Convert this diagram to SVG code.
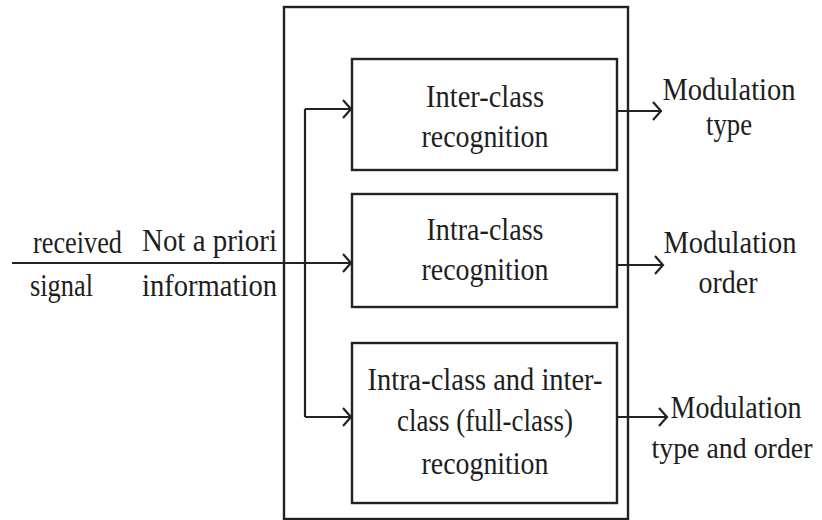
<svg xmlns="http://www.w3.org/2000/svg" width="822" height="520" viewBox="0 0 822 520">
<style>
.box{fill:none;stroke:#222;stroke-width:2.4}
.ln{fill:none;stroke:#222;stroke-width:2.2}
text{font-family:"Liberation Serif","Times New Roman",serif;font-size:31px;fill:#1e1e1e}
.c{text-anchor:middle}
</style>
<defs>
<marker id="ah" markerUnits="userSpaceOnUse" markerWidth="16" markerHeight="22" refX="12" refY="11" orient="auto">
<path d="M4,2 L12,11 L4,20" fill="none" stroke="#222" stroke-width="2.2"/>
</marker>
</defs>
<rect width="822" height="520" fill="#fff"/>
<g id="outer"><rect class="box" x="284" y="7" width="344" height="512"/></g>
<g id="connectors">
<line class="ln" x1="12" y1="263" x2="351" y2="263" marker-end="url(#ah)"/>
<polyline class="ln" points="305,109 305,417"/>
<line class="ln" x1="305" y1="109" x2="351" y2="109" marker-end="url(#ah)"/>
<line class="ln" x1="305" y1="417" x2="351" y2="417" marker-end="url(#ah)"/>
<line class="ln" x1="617" y1="111" x2="661" y2="111" marker-end="url(#ah)"/>
<line class="ln" x1="617" y1="265" x2="663" y2="265" marker-end="url(#ah)"/>
<line class="ln" x1="617" y1="417" x2="667" y2="417" marker-end="url(#ah)"/>
</g>
<g id="input-label">
<text x="33" y="253" textLength="89" lengthAdjust="spacingAndGlyphs">received</text>
<text x="30" y="296" textLength="63" lengthAdjust="spacingAndGlyphs">signal</text>
<text x="142" y="251" textLength="135" lengthAdjust="spacingAndGlyphs">Not a priori</text>
<text x="142" y="296" textLength="135" lengthAdjust="spacingAndGlyphs">information</text>
</g>
<g id="inter">
<rect class="box" x="352" y="59" width="265" height="111"/>
<text class="c" x="485" y="107" textLength="118" lengthAdjust="spacingAndGlyphs">Inter-class</text>
<text class="c" x="485" y="147" textLength="127" lengthAdjust="spacingAndGlyphs">recognition</text>
</g>
<g id="intra">
<rect class="box" x="352" y="194" width="265" height="113"/>
<text class="c" x="485" y="240" textLength="117" lengthAdjust="spacingAndGlyphs">Intra-class</text>
<text class="c" x="485" y="280" textLength="127" lengthAdjust="spacingAndGlyphs">recognition</text>
</g>
<g id="full">
<rect class="box" x="352" y="343" width="265" height="160"/>
<text class="c" x="485" y="390" textLength="235" lengthAdjust="spacingAndGlyphs">Intra-class and inter-</text>
<text class="c" x="485" y="431" textLength="176" lengthAdjust="spacingAndGlyphs">class (full-class)</text>
<text class="c" x="485" y="474" textLength="127" lengthAdjust="spacingAndGlyphs">recognition</text>
</g>
<g id="out-type">
<text class="c" x="729" y="100" textLength="133" lengthAdjust="spacingAndGlyphs">Modulation</text>
<text class="c" x="729" y="135" textLength="46" lengthAdjust="spacingAndGlyphs">type</text>
</g>
<g id="out-order">
<text class="c" x="730" y="253" textLength="133" lengthAdjust="spacingAndGlyphs">Modulation</text>
<text class="c" x="728" y="293" textLength="59" lengthAdjust="spacingAndGlyphs">order</text>
</g>
<g id="out-both">
<text class="c" x="736" y="418" textLength="131" lengthAdjust="spacingAndGlyphs">Modulation</text>
<text class="c" x="732" y="458" style="font-size:29px" textLength="161" lengthAdjust="spacingAndGlyphs">type and order</text>
</g>
</svg>
